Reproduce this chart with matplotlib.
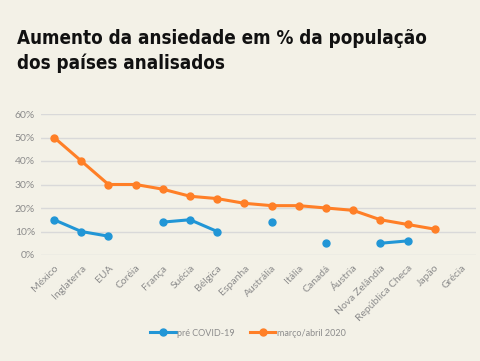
"""Aumento da ansiedade: pré COVID-19 vs março/abril 2020."""

import matplotlib
matplotlib.use("Agg")
import matplotlib.pyplot as plt
import numpy as np

paises = ["México", "Inglaterra", "EUA", "Coréia", "França", "Suécia",
          "Bélgica", "Espanha", "Austrália", "Itália", "Canadá", "Áustria",
          "Nova Zelândia", "República Checa", "Japão", "Grécia"]
pre_covid = [15, 10, 8, None, 14, 15, 10, None, 14, None, 5, None,
             5, 6, None, None]
mar_abr_2020 = [50, 40, 30, 30, 28, 25, 24, 22, 21, 21, 20, 19,
                15, 13, 11, None]

BG = "#f3f1e7"
BLUE = "#2196d6"
ORANGE = "#ff7f27"
GRAY = "#8c8c8c"


def as_array(vals):
    return np.array([np.nan if v is None else v for v in vals], dtype=float)


fig = plt.figure(figsize=(4.8, 3.61), dpi=100, facecolor=BG)
ax = fig.add_axes([40.5 / 480, 106 / 361, 435 / 480, 141 / 361])
ax.set_facecolor(BG)

x = np.arange(len(paises))
ax.plot(x, as_array(pre_covid), color=BLUE, lw=2.2, marker="o", ms=5,
        label="pré COVID-19", clip_on=False, zorder=3)
ax.plot(x, as_array(mar_abr_2020), color=ORANGE, lw=2.2, marker="o", ms=5,
        label="março/abril 2020", clip_on=False, zorder=3)

ax.set_xlim(-0.5, len(paises) - 0.5)
ax.set_ylim(0, 60)
ax.set_yticks(range(0, 61, 10))
ax.set_yticklabels([f"{v}%" for v in range(0, 61, 10)])
ax.set_xticks(x)
ax.set_xticklabels(paises, rotation=45, ha="right", rotation_mode="anchor")
ax.tick_params(length=0, colors=GRAY, labelsize=7.5)
ax.tick_params(axis="x", pad=6)
ax.tick_params(axis="y", pad=4)
for lab in ax.get_xticklabels() + ax.get_yticklabels():
    lab.set_family(["Lato", "DejaVu Sans"])
ax.grid(axis="y", color="#d9d9d9", lw=1)
ax.set_axisbelow(True)
for s in ax.spines.values():
    s.set_visible(False)

fig.text(17 / 480, 1 - 29 / 361, "Aumento da ansiedade em % da população\n"
         "dos países analisados", ha="left", va="top", fontsize=13.5,
         fontweight="bold", fontstretch="condensed", color="#111111",
         linespacing=1.35, family=["DejaVu Sans"])

leg = fig.legend(loc="center", bbox_to_anchor=(248 / 480, 1 - 333 / 361),
                 ncol=2, frameon=False, labelcolor=GRAY,
                 handlelength=2.8, columnspacing=1.7, handletextpad=0.15,
                 prop={"family": ["Lato", "DejaVu Sans"], "size": 6.5})

fig.savefig("out.png", dpi=100, facecolor=BG)
